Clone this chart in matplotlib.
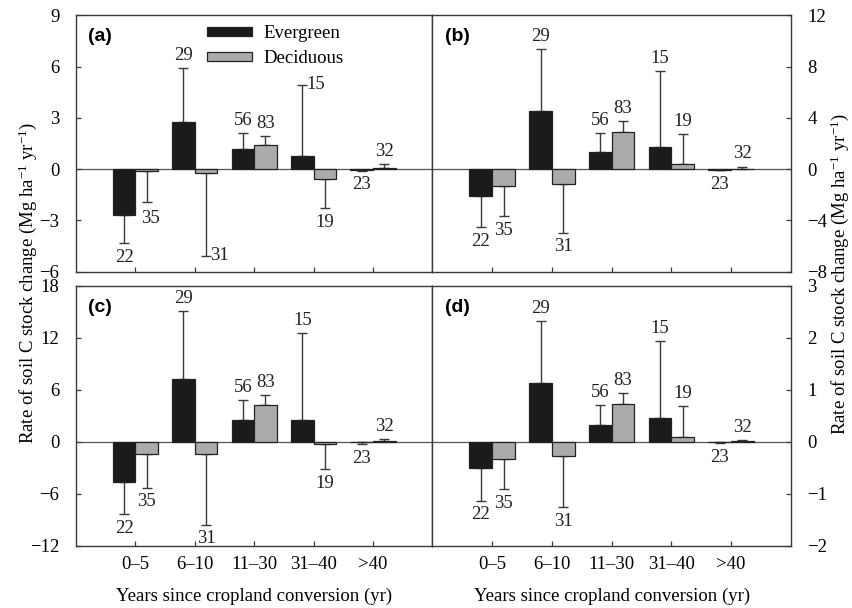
import numpy as np
import matplotlib
matplotlib.use("Agg")
import matplotlib.pyplot as plt
from matplotlib.patches import Patch

plt.rcParams["font.family"] = ["Liberation Serif", "DejaVu Serif"]
plt.rcParams["mathtext.fontset"] = "custom"
plt.rcParams["mathtext.rm"] = "Liberation Serif"
plt.rcParams["mathtext.it"] = "Liberation Serif:italic"

# categories and sample sizes (same in every panel)
age_classes = ["0\u20135", "6\u201310", "11\u201330", "31\u201340", ">40"]
n_evergreen = [22, 29, 56, 15, 23]
n_deciduous = [35, 31, 83, 19, 32]

# panel (a)
a_ever = [-2.68, 2.74, 1.19, 0.78, -0.03]
a_ever_err = [1.66, 3.19, 0.93, 4.14, 0.07]
a_deci = [-0.08, -0.20, 1.42, -0.60, 0.05]
a_deci_err = [1.83, 4.86, 0.49, 1.68, 0.24]

# panel (b)
b_ever = [-2.07, 4.53, 1.30, 1.76, -0.03]
b_ever_err = [2.46, 4.80, 1.50, 5.88, 0.07]
b_deci = [-1.35, -1.14, 2.93, 0.39, 0.05]
b_deci_err = [2.30, 3.83, 0.80, 2.33, 0.15]

# panel (c)
c_ever = [-4.68, 7.24, 2.48, 2.52, -0.05]
c_ever_err = [3.64, 7.86, 2.36, 10.06, 0.22]
c_deci = [-1.43, -1.39, 4.30, -0.23, 0.10]
c_deci_err = [3.84, 8.17, 1.12, 2.91, 0.25]

# panel (d)
d_ever = [-0.51, 1.14, 0.33, 0.45, -0.01]
d_ever_err = [0.62, 1.18, 0.38, 1.48, 0.02]
d_deci = [-0.33, -0.28, 0.73, 0.10, 0.01]
d_deci_err = [0.58, 0.97, 0.20, 0.59, 0.03]

EVER_COLOR = "#1b1b1b"
DECI_COLOR = "#ababab"
LINE_COLOR = "#3a3a3a"
FS = 13.5
WIDTH = 0.38

ylabel = r"Rate of soil C stock change (Mg ha$^{-1}$ yr$^{-1}$)"


def draw_panel(ax, ever, ever_err, deci, deci_err, ylim, step, tag,
               right=False, bottom=False, label_tweaks=None):
    label_tweaks = label_tweaks or {}
    x = np.arange(1, len(age_classes) + 1)
    ax.axhline(0, color="#555555", lw=0.9, zorder=1)
    for offset, vals, errs, ns, color in [
        (-WIDTH / 2, ever, ever_err, n_evergreen, EVER_COLOR),
        (WIDTH / 2, deci, deci_err, n_deciduous, DECI_COLOR),
    ]:
        vals = np.array(vals)
        errs = np.array(errs)
        xs = x + offset
        # one-sided error bars pointing away from zero
        lower = np.where(vals < 0, errs, 0)
        upper = np.where(vals >= 0, errs, 0)
        ax.errorbar(xs, vals, yerr=[lower, upper], fmt="none",
                    ecolor=LINE_COLOR, elinewidth=1.0, capsize=3.5,
                    capthick=1.0, zorder=2)
        ax.bar(xs, vals, width=WIDTH, color=color, edgecolor="#222222",
               linewidth=0.9, zorder=3)
        for xi, v, e, n in zip(xs, vals, errs, ns):
            end = v + e if v >= 0 else v - e
            if n in label_tweaks:
                dx, dy, ha, va = label_tweaks[n]
            elif v >= 0:
                dx, dy, ha, va = 0, 3, "center", "bottom"
            else:
                dx, dy, ha, va = 0, -4, "center", "top"
            ax.annotate(str(n), (xi, end), xytext=(dx, dy),
                        textcoords="offset points", ha=ha, va=va,
                        fontsize=FS, color="#222222", zorder=4)

    ax.set_xlim(0, 6)
    ax.set_ylim(*ylim)
    ax.set_yticks(np.arange(ylim[0], ylim[1] + step / 2, step))
    ax.set_xticks(x)
    ax.tick_params(axis="both", direction="in", length=3.5, width=0.9,
                   color=LINE_COLOR, labelsize=FS, pad=12)
    ax.tick_params(axis="x", pad=7)
    if bottom:
        ax.set_xticklabels(age_classes)
        ax.set_xlabel("Years since cropland conversion (yr)", fontsize=FS,
                      labelpad=11)
    else:
        ax.set_xticklabels([])
    if right:
        ax.yaxis.tick_right()
    for sp in ax.spines.values():
        sp.set_color(LINE_COLOR)
        sp.set_linewidth(1.0)
    ax.text(0.035, 0.95, tag, transform=ax.transAxes, ha="left", va="top",
            fontsize=14, fontweight="bold", family="Liberation Sans")


fig = plt.figure(figsize=(8.53, 6.08), dpi=100)
L, M, R = 0.089, 0.507, 0.927
top_row = (0.553, 0.975)
bot_row = (0.102, 0.530)

ax_a = fig.add_axes([L, top_row[0], M - L, top_row[1] - top_row[0]])
ax_b = fig.add_axes([M, top_row[0], R - M, top_row[1] - top_row[0]])
ax_c = fig.add_axes([L, bot_row[0], M - L, bot_row[1] - bot_row[0]])
ax_d = fig.add_axes([M, bot_row[0], R - M, bot_row[1] - bot_row[0]])

draw_panel(ax_a, a_ever, a_ever_err, a_deci, a_deci_err, (-6, 9), 3, "(a)",
           label_tweaks={31: (3, 0, "left", "center"),
                         15: (3, 0, "left", "center"),
                         35: (3, -6, "center", "top")})
draw_panel(ax_b, b_ever, b_ever_err, b_deci, b_deci_err, (-8, 12), 4, "(b)",
           right=True)
draw_panel(ax_c, c_ever, c_ever_err, c_deci, c_deci_err, (-12, 18), 6, "(c)",
           bottom=True)
draw_panel(ax_d, d_ever, d_ever_err, d_deci, d_deci_err, (-2, 3), 1, "(d)",
           right=True, bottom=True)

handles = [Patch(facecolor=EVER_COLOR, edgecolor="#222222", lw=0.9),
           Patch(facecolor=DECI_COLOR, edgecolor="#222222", lw=0.9)]
ax_a.legend(handles, ["Evergreen", "Deciduous"], loc="upper left",
            bbox_to_anchor=(0.367, 0.96), frameon=False, fontsize=FS,
            handlelength=2.4, handleheight=0.35, handletextpad=0.6,
            labelspacing=0.4, borderpad=0, borderaxespad=0)

fig.text(0.032, 0.535, ylabel, rotation=90, ha="center", va="center",
         fontsize=FS)
fig.text(0.984, 0.55, ylabel, rotation=90, ha="center", va="center",
         fontsize=FS)

fig.savefig("out.png", dpi=100)
